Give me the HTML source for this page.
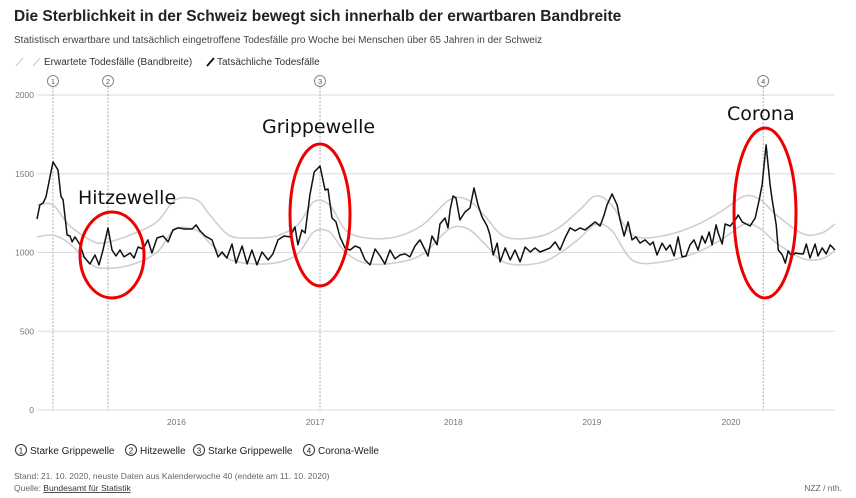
<!DOCTYPE html>
<html><head><meta charset="utf-8">
<style>
body{margin:0;background:#fff;width:856px;height:498px;overflow:hidden;font-family:"Liberation Sans",sans-serif;}
svg{display:block}
</style></head>
<body>
<svg id="c" width="856" height="498" viewBox="0 0 856 498">
<text x="14" y="21" font-size="15.5" font-weight="bold" fill="#222">Die Sterblichkeit in der Schweiz bewegt sich innerhalb der erwartbaren Bandbreite</text>
<text x="14" y="43" font-size="10" fill="#444">Statistisch erwartbare und tatsächlich eingetroffene Todesfälle pro Woche bei Menschen über 65 Jahren in der Schweiz</text>
<g>
<line x1="16" y1="66" x2="23" y2="58" stroke="#ccc" stroke-width="1.2"/>
<line x1="33" y1="66" x2="40" y2="58" stroke="#ccc" stroke-width="1.2"/>
<text x="44" y="65" font-size="10" fill="#333">Erwartete Todesfälle (Bandbreite)</text>
<line x1="207" y1="66" x2="214" y2="58" stroke="#111" stroke-width="1.8"/>
<text x="217" y="65" font-size="10" fill="#333">Tatsächliche Todesfälle</text>
</g>
<g id="axes"></g>
<g id="marks"></g>
<g font-family="'DejaVu Sans',sans-serif" font-size="19" fill="#111">
<text x="78" y="204">Hitzewelle</text>
<text x="262" y="133">Grippewelle</text>
<text x="727" y="120">Corona</text>
<ellipse cx="112" cy="255" rx="32" ry="43" fill="none" stroke="#e00" stroke-width="3"/>
<ellipse cx="320" cy="215" rx="30" ry="71" fill="none" stroke="#e00" stroke-width="3"/>
<ellipse cx="765" cy="213" rx="31" ry="85" fill="none" stroke="#e00" stroke-width="3"/>
</g>
<g font-size="10" fill="#222">
<circle cx="21" cy="450" r="5.5" fill="none" stroke="#333"/><text x="21" y="453.5" font-size="8" text-anchor="middle">1</text>
<text x="30" y="454">Starke Grippewelle</text>
<circle cx="131" cy="450" r="5.5" fill="none" stroke="#333"/><text x="131" y="453.5" font-size="8" text-anchor="middle">2</text>
<text x="140" y="454">Hitzewelle</text>
<circle cx="199" cy="450" r="5.5" fill="none" stroke="#333"/><text x="199" y="453.5" font-size="8" text-anchor="middle">3</text>
<text x="208" y="454">Starke Grippewelle</text>
<circle cx="309" cy="450" r="5.5" fill="none" stroke="#333"/><text x="309" y="453.5" font-size="8" text-anchor="middle">4</text>
<text x="318" y="454">Corona-Welle</text>
</g>
<text x="14" y="479" font-size="8.5" fill="#666">Stand: 21. 10. 2020, neuste Daten aus Kalenderwoche 40 (endete am 11. 10. 2020)</text>
<text x="14" y="491" font-size="8.5" fill="#666">Quelle: <tspan fill="#333" text-decoration="underline">Bundesamt für Statistik</tspan></text>
<text x="842" y="491" font-size="8.5" fill="#666" text-anchor="end">NZZ / nth.</text>
</svg>
<script>
const yTicks=[0,500,1000,1500,2000];
const yearLabels=["2016","2017","2018","2019","2020"];
const yearWeeks=[52.4,104.6,156.5,208.6,260.9];
const eventIds=["1","2","3","4"];
const eventWeeks=[6,26.7,106.4,273];
const actualWeeks=[0,1.1,2.3,3.4,6,7.9,9,9.8,11.3,12.4,13.2,14.3,16.2,17.7,19.9,21.8,23.3,24.8,26.7,28.2,29.7,31.2,32.7,35,36.5,38,39.9,41.7,43.2,45.1,47.4,49.3,51.1,53,55.6,58.3,59.8,61.3,63.2,65.8,68.1,69.6,71.4,73.3,74.8,77.1,79,80.8,82.7,84.6,86.9,88.7,90.6,92.9,95.1,97,98.1,99.6,100.8,102.6,104.2,106.4,108.3,109.4,110.9,112.4,113.9,115.8,117.7,119.6,121.4,123.3,125.2,127.1,129,130.8,132.7,134.6,136.5,138.4,140.2,142.1,144,145.9,147,148.5,150.4,151.5,153.4,154.5,155.3,156.4,157.5,159,160.9,162.8,164.3,165.8,167.3,169.2,170.3,171.5,173,174.1,176,177.9,179.7,181.6,183.5,185.4,187.2,189.1,191,192.9,194.8,196.6,198.5,200.4,202.3,204.2,206,207.9,209.8,211.7,213.2,214.3,216.2,218.1,219.2,220.7,222.2,223.7,225.2,226.7,228.6,230.5,231.6,233.1,235,236.5,238,239.5,241,242.5,244,245.5,247,248.5,250,251.2,252.7,253.8,255.3,256.1,257.6,258.7,260.6,262.5,263.6,265.1,266.6,268.1,270,271.5,272.6,274.1,275.6,276.4,277.9,278.7,280.2,281.3,282.4,283.6,285.1,287,288.1,289.2,290.6,292.5,293.6,295.2,296.7,298.2,300];
const actualValues=[1213,1302,1314,1353,1575,1524,1359,1334,1111,1105,1067,1099,1048,972,927,984,921,1016,1156,1016,978,1016,972,997,965,1035,1022,1080,997,1092,1105,1067,1143,1156,1149,1149,1175,1137,1105,1080,972,1003,965,1054,933,1041,927,1016,921,1003,953,991,1080,1105,1099,1162,1048,1143,1124,1365,1511,1549,1397,1403,1219,1194,1099,1029,1016,1041,1029,953,921,1022,978,927,1016,960,984,991,972,1041,1080,1016,978,1105,1048,1181,1219,1156,1270,1359,1346,1207,1257,1283,1410,1302,1226,1168,1111,984,1060,940,1029,953,1016,940,1035,1003,1029,1003,1016,1029,1067,1016,1092,1156,1137,1156,1143,1168,1194,1168,1238,1302,1372,1302,1207,1105,1194,1080,1099,1060,1080,1048,1067,984,1060,1016,1048,978,1099,972,978,1048,1080,1016,1105,1060,1130,1048,1175,1124,1054,1181,1168,1207,1238,1194,1181,1168,1219,1334,1429,1683,1429,1334,1175,1016,984,933,1010,978,997,991,991,1054,965,1054,978,1029,991,1048,1016,1067];
const bandWeeks=[0,6,12,20,25,35,45,52,60,65,72,80,90,98,104,110,116,124,135,145,155,162,168,176,188,196,204,210,216,224,235,248,258,266,272,278,288,295,300];
const upperValues=[1302,1302,1175,1080,1060,1111,1194,1334,1334,1238,1111,1092,1105,1175,1321,1302,1143,1092,1099,1175,1334,1334,1238,1099,1099,1156,1270,1359,1302,1111,1105,1175,1270,1359,1334,1238,1118,1124,1181];
const lowerValues=[1099,1110,1060,930,900,920,1000,1150,1140,1060,960,930,935,990,1130,1130,1000,930,935,990,1150,1150,1060,935,930,990,1090,1180,1140,950,940,1000,1090,1180,1150,1060,960,960,1010];

const X0=37, PXW=2.66, Y0=410, PXV=315/2000;
const xs=w=>X0+w*PXW;
const ys=v=>Y0-v*PXV;
const NS="http://www.w3.org/2000/svg";
const axes=document.getElementById('axes'), marks=document.getElementById('marks');
function mk(tag,attrs,parent){const e=document.createElementNS(NS,tag);for(const k in attrs)e.setAttribute(k,attrs[k]);parent.appendChild(e);return e;}
yTicks.forEach(v=>{
  const g=mk('line',{x1:37,x2:835,y1:ys(v),y2:ys(v),stroke:'#ddd','stroke-width':1},axes);
  
  
  const t=mk('text',{x:34,y:ys(v)+3,'font-size':8.5,fill:'#777','text-anchor':'end'},axes);
  t.textContent=v;
  
  
});
yearLabels.forEach((l,i)=>{
  const t=mk('text',{x:xs(yearWeeks[i]),y:425,'font-size':8.5,fill:'#777','text-anchor':'middle'},axes);
  t.textContent=l;
  
  
});
eventIds.forEach((id,i)=>{
  const x=xs(eventWeeks[i]);
  const l=mk('line',{x1:x,x2:x,y1:87,y2:410,stroke:'#999','stroke-width':0.8,'stroke-dasharray':'2,1.5'},axes);
  
  
  const c=mk('circle',{cx:x,cy:81,r:5.5,fill:'#fff',stroke:'#888'},axes);
  
  
  const t=mk('text',{x:x,y:84,'font-size':7.5,fill:'#555','text-anchor':'middle'},axes);
  t.textContent=id;
});
function path(wk,vals){return vals.map((v,i)=>(i?'L':'M')+xs(wk[i]).toFixed(1)+','+ys(v).toFixed(1)).join('');}
function smooth(wk,vals){
  const p=vals.map((v,i)=>[xs(wk[i]),ys(v)]);
  let d='M'+p[0][0].toFixed(1)+','+p[0][1].toFixed(1);
  for(let i=0;i<p.length-1;i++){
    const p0=p[Math.max(0,i-1)],p1=p[i],p2=p[i+1],p3=p[Math.min(p.length-1,i+2)];
    const c1=[p1[0]+(p2[0]-p0[0])/6,p1[1]+(p2[1]-p0[1])/6];
    const c2=[p2[0]-(p3[0]-p1[0])/6,p2[1]-(p3[1]-p1[1])/6];
    d+='C'+c1.map(n=>n.toFixed(1)).join(',')+' '+c2.map(n=>n.toFixed(1)).join(',')+' '+p2[0].toFixed(1)+','+p2[1].toFixed(1);
  }
  return d;
}
const up=mk('path',{d:smooth(bandWeeks,upperValues),fill:'none',stroke:'#cfcfd3','stroke-width':1.6,'stroke-linejoin':'round'},marks);


const lo=mk('path',{d:smooth(bandWeeks,lowerValues),fill:'none',stroke:'#cfcfd3','stroke-width':1.6,'stroke-linejoin':'round'},marks);


const act=mk('path',{d:path(actualWeeks,actualValues),fill:'none',stroke:'#111','stroke-width':1.5,'stroke-linejoin':'round'},marks);


</script>
</body></html>
